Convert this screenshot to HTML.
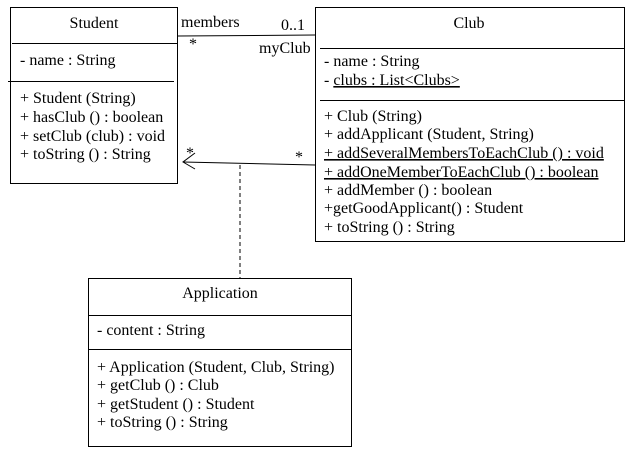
<!DOCTYPE html>
<html><head><style>body{margin:0;background:#fff} svg text{font-family:"Liberation Serif","Times New Roman",serif;font-size:16px}</style></head><body>
<svg width="639" height="453" xmlns="http://www.w3.org/2000/svg" fill="#000">
<rect x="0" y="0" width="639" height="453" fill="#fff"/>
<g fill="none" stroke="#000" stroke-width="1">
<rect x="10.5" y="7.5" width="167" height="176"/>
<line x1="12" y1="43.5" x2="177" y2="43.5"/>
<line x1="8" y1="81.5" x2="174" y2="81.5"/>
<rect x="315.5" y="7.5" width="309" height="234"/>
<line x1="320" y1="48.5" x2="625" y2="48.5"/>
<line x1="320" y1="100.5" x2="625" y2="100.5"/>
<rect x="88.5" y="278.5" width="263" height="168"/>
<line x1="88" y1="315.5" x2="352" y2="315.5"/>
<line x1="88" y1="349.5" x2="352" y2="349.5"/>
<line x1="178" y1="36" x2="315" y2="35"/>
<line x1="183" y1="162" x2="315" y2="165"/>
<polyline points="195,153 183,162 195,169"/>
<line x1="240" y1="165" x2="240" y2="278" stroke-dasharray="4,3"/>
</g>
<text x="94" y="28" text-anchor="middle">Student</text>
<text x="20" y="65">- name : String</text>
<text x="20" y="103">+ Student (String)</text>
<text x="20" y="122">+ hasClub () : boolean</text>
<text x="20" y="141">+ setClub (club) : void</text>
<text x="20" y="159">+ toString () : String</text>
<text x="181" y="27">members</text>
<text x="281" y="30">0..1</text>
<text x="189" y="49">*</text>
<text x="259" y="53">myClub</text>
<text x="186" y="158">*</text>
<text x="295" y="162">*</text>
<text x="469" y="28" text-anchor="middle">Club</text>
<text x="324" y="66">- name : String</text>
<text x="324" y="85">- <tspan text-decoration="underline">clubs : List&lt;Clubs&gt;</tspan></text>
<text x="324" y="121">+ Club (String)</text>
<text x="324" y="139">+  addApplicant (Student, String)</text>
<text x="324" y="158" text-decoration="underline">+ addSeveralMembersToEachClub () : void</text>
<text x="324" y="177" text-decoration="underline">+ addOneMemberToEachClub () : boolean</text>
<text x="324" y="195">+ addMember () : boolean</text>
<text x="324" y="213">+getGoodApplicant() : Student</text>
<text x="324" y="232">+ toString () : String</text>
<text x="220" y="298" text-anchor="middle">Application</text>
<text x="97" y="335">- content : String</text>
<text x="97" y="372">+ Application (Student, Club, String)</text>
<text x="97" y="390">+ getClub () : Club</text>
<text x="97" y="409">+ getStudent () : Student</text>
<text x="97" y="427">+ toString () : String</text>
</svg>
</body></html>
